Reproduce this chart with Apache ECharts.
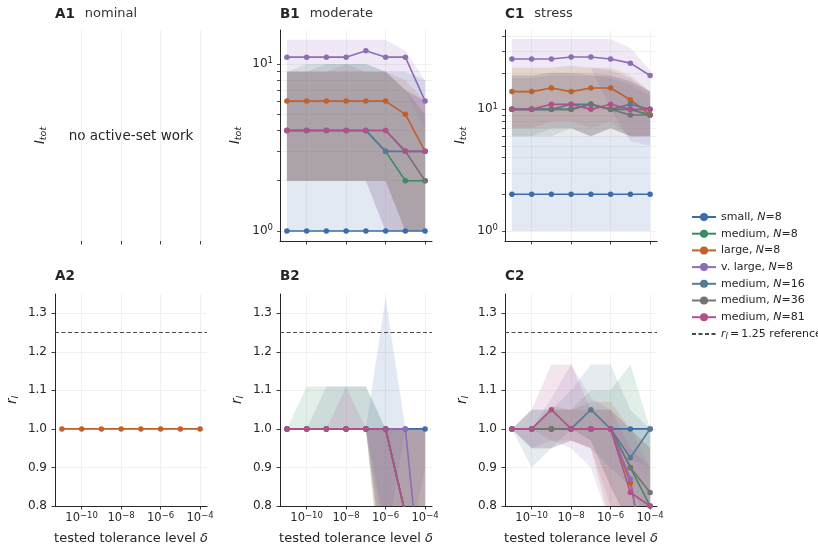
<!DOCTYPE html>
<html><head><meta charset="utf-8">
<script src="https://cdn.jsdelivr.net/npm/echarts@6/dist/echarts.min.js"></script>
<style>html,body{margin:0;padding:0;background:#fff}#c{width:818px;height:551px}</style>
</head><body><div id="c"></div>
<script>
// ---------------- DATA ----------------
const tolExponents = [-11, -10, -9, -8, -7, -6, -5, -4];   // log10 of tested tolerance δ
const xTickExponents = [-10, -8, -6, -4];
const seriesNames = ['small, N=8', 'medium, N=8', 'large, N=8', 'v. large, N=8', 'medium, N=16', 'medium, N=36', 'medium, N=81'];
const seriesColors = ['#3b6ea8', '#3a8a64', '#c0602b', '#8e6cb6', '#557b94', '#737373', '#b0518b'];
const refName = 'r_l = 1.25 reference';
const refValue = 1.25;
const rTicks = [0.8, 0.9, 1.0, 1.1, 1.2, 1.3];
const itotMajorTicks = [1, 10];
const itotMinorTicksModerate = [2, 3, 4, 5, 6, 7, 8, 9];
const itotMinorTicksStress = [2, 3, 4, 5, 6, 7, 8, 9, 20, 30, 40];

// B1 moderate: I_tot (median, lower, upper), rows in seriesNames order
const moderateItot = [
  [1, 1, 1, 1, 1, 1, 1, 1],
  [4, 4, 4, 4, 4, 3, 2, 2],
  [6, 6, 6, 6, 6, 6, 5, 3],
  [11, 11, 11, 11, 12, 11, 11, 6],
  [4, 4, 4, 4, 4, 3, 3, 3],
  [4, 4, 4, 4, 4, 4, 3, 2],
  [4, 4, 4, 4, 4, 4, 3, 3]
];
const moderateItotLo = [
  [1, 1, 1, 1, 1, 1, 1, 1],
  [2, 2, 2, 2, 2, 2, 1, 1],
  [2, 2, 2, 2, 2, 2, 1, 1],
  [9, 9, 9, 9, 9, 9, 7, 4],
  [2, 2, 2, 2, 2, 1, 1, 1],
  [2, 2, 2, 2, 2, 2, 1, 1],
  [2, 2, 2, 2, 2, 1, 1, 1]
];
const moderateItotHi = [
  [9, 9, 9, 9, 9, 9, 9, 8],
  [9, 10, 10, 10, 10, 9, 7, 5],
  [9, 9, 9, 9, 9, 9, 8, 6],
  [14, 14, 14, 14, 14, 14, 12, 8],
  [9, 9, 10, 10, 10, 9, 7, 6],
  [9, 9, 9, 9, 9, 9, 7, 5],
  [9, 9, 9, 10, 9, 9, 7, 6]
];

// C1 stress: I_tot
const stressItot = [
  [2, 2, 2, 2, 2, 2, 2, 2],
  [10, 10, 10, 10, 11, 10, 10, 9],
  [14, 14, 15, 14, 15, 15, 12, 9],
  [26, 26, 26, 27, 27, 26, 24, 19],
  [10, 10, 10, 11, 11, 10, 11, 10],
  [10, 10, 10, 10, 11, 10, 9, 9],
  [10, 10, 11, 11, 10, 11, 10, 10]
];
const stressItotLo = [
  [1, 1, 1, 1, 1, 1, 1, 1],
  [6, 6, 7, 7, 6, 7, 6, 6],
  [7, 7, 8, 8, 7, 8, 6, 6],
  [22, 22, 22, 22, 22, 10, 5.5, 5],
  [6, 6, 6, 7, 6, 7, 6, 6],
  [6, 6, 6, 6, 6, 6, 6, 6],
  [7, 7, 7, 7, 6, 7, 6, 6]
];
const stressItotHi = [
  [6, 6, 6, 6, 6, 6, 6, 6],
  [19, 19, 20, 20, 19, 19, 17, 14],
  [22, 22, 22, 22, 22, 22, 19, 14],
  [38, 38, 38, 38, 38, 38, 32, 21],
  [18, 18, 19, 19, 19, 18, 16, 13],
  [22, 22, 22, 23, 22, 21, 18, 14],
  [19, 19, 20, 20, 20, 19, 17, 14]
];

// A2 nominal: r_l (only the large case is drawn)
const nominalRlLarge = [1, 1, 1, 1, 1, 1, 1, 1];

// B2 moderate: r_l
const moderateRl = [
  [1, 1, 1, 1, 1, 1, 1, 1],
  [1, 1, 1, 1, 1, 1, 0.78, 0.7],
  [1, 1, 1, 1, 1, 1, 0.78, 0.7],
  [1, 1, 1, 1, 1, 1, 1, 0.5],
  [1, 1, 1, 1, 1, 1, 0.78, 0.7],
  [1, 1, 1, 1, 1, 1, 0.78, 0.7],
  [1, 1, 1, 1, 1, 1, 0.78, 0.7]
];
const moderateRlLo = [
  [1, 1, 1, 1, 1, 0.7, 1, 1],
  [1, 1, 1, 1, 1, 0.5, 0.4, 0.4],
  [1, 1, 1, 1, 1, 0.5, 0.4, 0.4],
  [1, 1, 1, 1, 1, 0.75, 0.65, 0.9],
  [1, 1, 1, 1, 1, 0.6, 0.4, 0.4],
  [1, 1, 1, 1, 1, 0.6, 0.4, 0.4],
  [1, 1, 1, 1, 1, 0.6, 0.4, 0.4]
];
const moderateRlHi = [
  [1, 1, 1, 1, 1, 1.34, 1, 1],
  [1, 1.11, 1.11, 1.11, 1.11, 1, 1, 1],
  [1, 1, 1, 1, 1, 1, 1, 1],
  [1, 1, 1, 1, 1, 1, 1, 1],
  [1, 1, 1.11, 1.11, 1.11, 1, 1, 1],
  [1, 1, 1, 1, 1, 1, 1, 1],
  [1, 1, 1, 1.11, 1, 1, 1, 1]
];

// C2 stress: r_l
const stressRl = [
  [1, 1, 1, 1, 1, 1, 1, 1],
  [1, 1, 1, 1, 1, 1, 0.9, 0.8],
  [1, 1, 1, 1, 1, 1, 0.86, 0.6],
  [1, 1, 1, 1, 1, 1, 0.87, 0.57],
  [1, 1, 1, 1, 1.05, 1, 0.925, 1],
  [1, 1, 1, 1, 1, 1, 0.9, 0.835],
  [1, 1, 1.05, 1, 1, 1, 0.835, 0.8]
];
const stressRlLo = [
  [1, 1, 1, 1, 1, 1, 0.92, 0.9],
  [1, 0.95, 0.95, 1, 0.97, 0.85, 0.75, 0.7],
  [1, 1, 0.97, 0.97, 0.95, 0.75, 0.6, 0.5],
  [1, 0.95, 0.97, 0.95, 0.9, 0.75, 0.6, 0.5],
  [1, 0.9, 0.95, 0.97, 0.95, 0.9, 0.85, 0.75],
  [1, 1, 1, 1, 0.97, 0.85, 0.75, 0.7],
  [1, 0.95, 0.95, 0.97, 0.95, 0.8, 0.6, 0.5]
];
const stressRlHi = [
  [1, 1, 1, 1, 1, 1, 1, 1],
  [1, 1.05, 1.05, 1.05, 1.1, 1.1, 1.167, 1],
  [1, 1, 1.06, 1.05, 1.07, 1.07, 1, 0.95],
  [1, 1, 1.08, 1.167, 1.08, 1.05, 1, 0.9],
  [1, 1.05, 1.05, 1.1, 1.167, 1.167, 1.05, 1],
  [1, 1, 1.05, 1.05, 1.05, 1.05, 1, 0.95],
  [1, 1.05, 1.167, 1.167, 1.05, 1.05, 0.95, 0.9]
];

// ---------------- CHART ----------------
const FONT = 'DejaVu Sans';
const TXT = '#262626';
const AXIS = '#262626';
const GRIDC = '#eeeeee';
const X_MIN = -11.35, X_MAX = -3.65;
const chart = echarts.init(document.getElementById('c'), null, {renderer: 'canvas', width: 818, height: 551});

const grids = [
  {left: 55, top: 30, width: 152, height: 211},
  {left: 280, top: 30, width: 152, height: 211},
  {left: 505, top: 30, width: 152, height: 211},
  {left: 55, top: 294, width: 152, height: 212},
  {left: 280, top: 294, width: 152, height: 212},
  {left: 505, top: 294, width: 152, height: 212}
].map(g => Object.assign({containLabel: false, outerBoundsMode: 'none'}, g));

const supRich = {sup: {fontSize: 8.5, lineHeight: 9, verticalAlign: 'top', color: TXT, fontFamily: FONT}};
const nameRich = {
  i: {fontStyle: 'italic', fontSize: 13.5, lineHeight: 17, color: TXT, fontFamily: FONT},
  sub: {fontStyle: 'italic', fontSize: 9.5, lineHeight: 11, verticalAlign: 'bottom', color: TXT, fontFamily: FONT}
};

function makeX(g, showLine, showLabels) {
  return {
    gridIndex: g, type: 'value', min: X_MIN, max: X_MAX,
    axisLine: {show: showLine, onZero: false, lineStyle: {color: AXIS, width: 1}},
    axisTick: {show: true, length: 3.5, customValues: xTickExponents, lineStyle: {color: AXIS, width: 0.9}},
    axisLabel: {show: showLabels, customValues: xTickExponents, margin: 5, fontSize: 11.5, lineHeight: 14,
      color: TXT, fontFamily: FONT, formatter: v => '10{sup|\u2212' + Math.abs(v) + '}', rich: supRich},
    splitLine: {show: true, lineStyle: {color: GRIDC, width: 0.8}},
    name: showLabels ? 'tested tolerance level {i|\u03b4}' : '',
    nameLocation: 'middle', nameGap: 26,
    nameTextStyle: {fontSize: 13, color: TXT, fontFamily: FONT,
      rich: {i: {fontStyle: 'italic', fontSize: 13, color: TXT, fontFamily: FONT}}}
  };
}
function makeYLog(g, min, max, minorTicks) {
  const major = itotMajorTicks.map(Math.log10);
  const all = major.concat(minorTicks.map(Math.log10));
  return {
    gridIndex: g, type: 'value', min: min, max: max,
    axisLine: {show: true, onZero: false, lineStyle: {color: AXIS, width: 1}},
    axisTick: {show: true, length: 3, customValues: all, lineStyle: {color: AXIS, width: 0.8}},
    axisLabel: {show: true, customValues: major, margin: 7, fontSize: 12, lineHeight: 15, color: TXT, fontFamily: FONT,
      formatter: v => '10{sup|' + Math.round(v) + '}', rich: supRich},
    splitLine: {show: true, lineStyle: {color: GRIDC, width: 0.8}},
    name: '{i|I}{sub|tot}', nameLocation: 'middle', nameGap: 36,
    nameTextStyle: {fontSize: 12, color: TXT, fontFamily: FONT, rich: nameRich}
  };
}
function makeYR(g) {
  return {
    gridIndex: g, type: 'value', min: 0.8, max: 1.35,
    axisLine: {show: true, onZero: false, lineStyle: {color: AXIS, width: 1}},
    axisTick: {show: true, length: 3.5, customValues: rTicks, lineStyle: {color: AXIS, width: 0.9}},
    axisLabel: {show: true, customValues: rTicks, margin: 8, fontSize: 12, color: TXT, fontFamily: FONT,
      formatter: v => v.toFixed(1)},
    splitLine: {show: true, lineStyle: {color: GRIDC, width: 0.8}},
    name: '{i|r}{sub|l}', nameLocation: 'middle', nameGap: 34,
    nameTextStyle: {fontSize: 12, color: TXT, fontFamily: FONT, rich: nameRich}
  };
}

const xAxes = [makeX(0, false, false), makeX(1, true, false), makeX(2, true, false),
               makeX(3, true, true), makeX(4, true, true), makeX(5, true, true)];
const yA1 = {
  gridIndex: 0, type: 'value', min: 0, max: 1,
  axisLine: {show: false}, axisTick: {show: false}, axisLabel: {show: false}, splitLine: {show: false},
  name: '{i|I}{sub|tot}', nameLocation: 'middle', nameGap: 6,
  nameTextStyle: {fontSize: 12, color: TXT, fontFamily: FONT, rich: nameRich}
};
const yAxes = [yA1, makeYLog(1, -0.06, 1.204, itotMinorTicksModerate), makeYLog(2, -0.083, 1.653, itotMinorTicksStress),
               makeYR(3), makeYR(4), makeYR(5)];

const series = [];
const ident = v => v;
function addBands(g, lo, hi, f) {
  lo.forEach((row, k) => {
    const loT = row.map(f), hiT = hi[k].map(f);
    const color = seriesColors[k];
    series.push({
      type: 'custom', xAxisIndex: g, yAxisIndex: g, silent: true, z: 1, clip: true,
      data: tolExponents.map((e, i) => [e, loT[i], hiT[i]]),
      encode: {x: 0, y: [1, 2]},
      renderItem: (params, api) => {
        if (params.dataIndex !== 0) return null;
        const pts = [];
        for (let i = 0; i < tolExponents.length; i++) pts.push(api.coord([tolExponents[i], hiT[i]]));
        for (let i = tolExponents.length - 1; i >= 0; i--) pts.push(api.coord([tolExponents[i], loT[i]]));
        return {type: 'polygon', shape: {points: pts}, style: {fill: color, opacity: 0.15, stroke: null}};
      }
    });
  });
}
function addLine(g, k, vals, f) {
  series.push({type: 'line', name: seriesNames[k], xAxisIndex: g, yAxisIndex: g, z: 3,
    symbol: 'circle', symbolSize: 5.5, color: seriesColors[k],
    lineStyle: {width: 1.6, color: seriesColors[k]}, itemStyle: {color: seriesColors[k]},
    data: tolExponents.map((e, i) => [e, f(vals[i])])});
}
function addLines(g, med, f) { med.forEach((row, k) => addLine(g, k, row, f)); }
function addRef(g) {
  series.push({type: 'line', name: refName, xAxisIndex: g, yAxisIndex: g, symbol: 'none', z: 2, data: [],
    color: '#4a4a4a', lineStyle: {type: [4, 2.5], width: 1.1, color: '#4a4a4a'},
    markLine: {silent: true, symbol: 'none', label: {show: false}, animation: false,
      lineStyle: {type: [4, 2.5], width: 1.1, color: '#4a4a4a'}, data: [{yAxis: refValue}]}});
}

addBands(1, moderateItotLo, moderateItotHi, Math.log10);
addLines(1, moderateItot, Math.log10);
addBands(2, stressItotLo, stressItotHi, Math.log10);
addLines(2, stressItot, Math.log10);
addRef(3);
addLine(3, 2, nominalRlLarge, ident);
addRef(4);
addBands(4, moderateRlLo, moderateRlHi, ident);
addLines(4, moderateRl, ident);
addRef(5);
addBands(5, stressRlLo, stressRlHi, ident);
addLines(5, stressRl, ident);

const titleRich = {
  b: {fontWeight: 'bold', fontSize: 13.5, color: TXT, fontFamily: FONT},
  n: {fontWeight: 'normal', fontSize: 13, color: '#333', fontFamily: FONT, padding: [0, 0, 0, 10]}
};
function mkTitle(label, sub, left, top) {
  return {text: '{b|' + label + '}' + (sub ? '{n|' + sub + '}' : ''), left: left, top: top, padding: 0,
    textStyle: {fontWeight: 'normal', rich: titleRich}};
}

const legendRich = {
  i: {fontStyle: 'italic', fontSize: 11, lineHeight: 14, color: TXT, fontFamily: FONT},
  sub: {fontStyle: 'italic', fontSize: 8, lineHeight: 9, verticalAlign: 'bottom', color: TXT, fontFamily: FONT}
};

chart.setOption({
  animation: false,
  backgroundColor: '#ffffff',
  textStyle: {fontFamily: FONT},
  title: [mkTitle('A1', 'nominal', 55, 7), mkTitle('B1', 'moderate', 280, 7), mkTitle('C1', 'stress', 505, 7),
          mkTitle('A2', '', 55, 269), mkTitle('B2', '', 280, 269), mkTitle('C2', '', 505, 269)],
  grid: grids,
  xAxis: xAxes,
  yAxis: yAxes,
  legend: {
    data: seriesNames.map(n => ({name: n})).concat([{name: refName, itemStyle: {opacity: 0}}]),
    orient: 'vertical', left: 686, top: 205,
    itemWidth: 24, itemHeight: 10, itemGap: 2.7, selectedMode: false,
    textStyle: {fontSize: 11, lineHeight: 14, color: TXT, fontFamily: FONT, rich: legendRich},
    formatter: name => name === refName ? '{i|r}{sub|l}\u2009=\u20091.25 reference' : name.replace('N=', '{i|N}=')
  },
  graphic: [{type: 'text', x: 131, y: 136, silent: true,
    style: {text: 'no active-set work', fontSize: 13.5, fontFamily: FONT, fill: TXT, align: 'center', verticalAlign: 'middle'}}],
  series: series
});
</script></body></html>
